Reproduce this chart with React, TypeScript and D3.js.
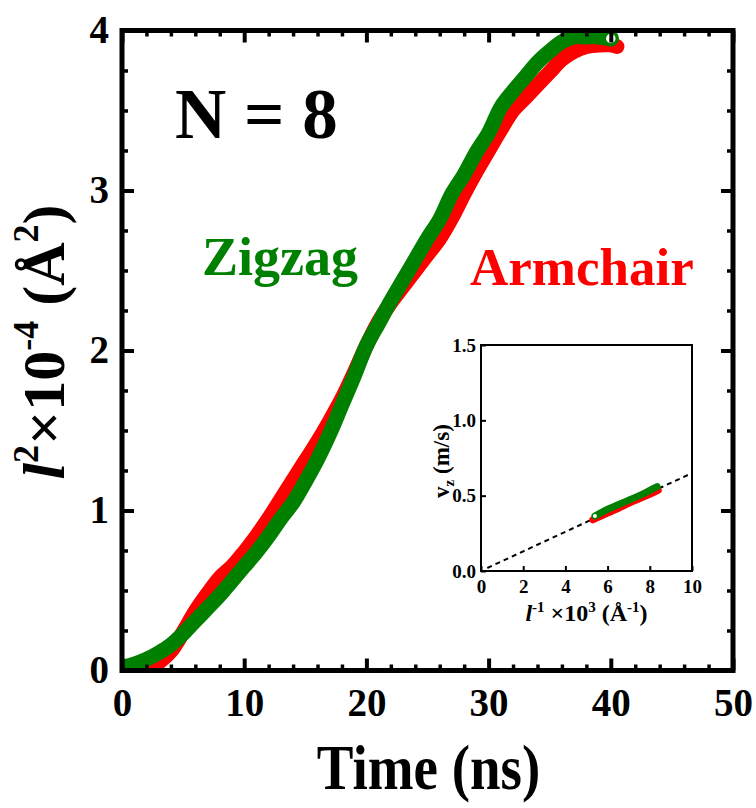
import { useEffect, useRef } from "react";
import {
  select,
  scaleLinear,
  axisBottom,
  axisLeft,
  axisTop,
  axisRight,
  line,
  curveCatmullRom,
  range,
} from "d3";

// main panel: l^2 x 10^-4 (A^2) vs time (ns)
const zigzagTime = [0, 1, 2, 3, 4, 5, 6, 7, 8, 9, 10, 11, 12, 13, 14, 15, 16, 17, 18, 19, 20, 21, 22, 23, 24, 25, 26, 27, 28, 29, 30, 31, 32, 33, 34, 35, 36, 37, 38, 39, 40];
const zigzagL2 = [0.02, 0.04, 0.07, 0.11, 0.16, 0.23, 0.31, 0.39, 0.47, 0.56, 0.65, 0.74, 0.84, 0.95, 1.05, 1.18, 1.32, 1.48, 1.66, 1.84, 2.03, 2.17, 2.31, 2.44, 2.57, 2.7, 2.82, 2.98, 3.1, 3.24, 3.36, 3.52, 3.62, 3.71, 3.8, 3.87, 3.93, 3.96, 3.96, 3.96, 3.95];
const armchairTime = [2, 3, 4, 5, 6, 7, 8, 9, 10, 11, 12, 13, 14, 15, 16, 17, 18, 19, 20, 21, 22, 23, 24, 25, 26, 27, 28, 29, 30, 31, 32, 33, 34, 35, 36, 37, 38, 39, 40, 40.5];
const armchairL2 = [0.0, 0.05, 0.12, 0.24, 0.37, 0.48, 0.58, 0.65, 0.74, 0.84, 0.95, 1.07, 1.19, 1.31, 1.43, 1.56, 1.7, 1.86, 2.03, 2.18, 2.3, 2.4, 2.5, 2.6, 2.7, 2.83, 2.98, 3.12, 3.25, 3.38, 3.5, 3.58, 3.66, 3.74, 3.82, 3.87, 3.9, 3.91, 3.91, 3.9];
const xTicks = [0, 10, 20, 30, 40, 50];
const yTicks = [0, 1, 2, 3, 4];

// inset: v_z (m/s) vs 1/l x 10^3
const insetZigzagX = [5.4, 6.0, 6.5, 7.0, 7.5, 8.0, 8.35];
const insetZigzagV = [0.365, 0.41, 0.44, 0.47, 0.5, 0.535, 0.56];
const insetArmchairX = [5.3, 6.0, 6.5, 7.0, 7.5, 8.0, 8.4];
const insetArmchairV = [0.34, 0.385, 0.415, 0.45, 0.48, 0.51, 0.535];
const fitX = [0.3, 10];
const fitV = [0.02, 0.65];
const insetXTicks = [0, 2, 4, 6, 8, 10];
const insetYTicks = [0, 0.5, 1.0, 1.5];

const GREEN = "#008000";
const RED = "#ff0000";
const FONT = "'Liberation Serif', 'Times New Roman', serif";

const plot = { left: 122, right: 733, top: 30.5, bottom: 670.5 };
const inset = { left: 481, right: 692, top: 345, bottom: 571 };

const App = () => {
  const svgRef = useRef<SVGSVGElement>(null);

  useEffect(() => {
    const svg = select(svgRef.current);
    svg.selectAll("*").remove();
    svg.style("font-family", FONT).style("font-weight", "bold");

    const x = scaleLinear().domain([0, 50]).range([plot.left, plot.right]);
    const y = scaleLinear().domain([0, 4]).range([plot.bottom, plot.top]);

    const defs = svg.append("defs");
    defs.append("clipPath").attr("id", "mainclip")
      .append("rect")
      .attr("x", plot.left).attr("y", plot.top)
      .attr("width", plot.right - plot.left).attr("height", plot.bottom - plot.top);
    defs.append("clipPath").attr("id", "insetclip")
      .append("rect")
      .attr("x", inset.left).attr("y", inset.top)
      .attr("width", inset.right - inset.left).attr("height", inset.bottom - inset.top);

    // series bands (dense overlapping markers look like a thick band)
    const band = (xs: number[], ys: number[], sx: any, sy: any) =>
      line<number>()
        .x((_, i) => sx(xs[i]))
        .y((_, i) => sy(ys[i]))
        .curve(curveCatmullRom)(ys);

    const series = svg.append("g").attr("clip-path", "url(#mainclip)");
    series.append("path")
      .attr("d", band(armchairTime, armchairL2, x, y))
      .attr("fill", "none").attr("stroke", RED).attr("stroke-width", 15)
      .attr("stroke-linejoin", "round").attr("stroke-linecap", "round");
    series.append("path")
      .attr("d", band(zigzagTime, zigzagL2, x, y))
      .attr("fill", "none").attr("stroke", GREEN).attr("stroke-width", 15)
      .attr("stroke-linejoin", "round").attr("stroke-linecap", "round");
    // last zigzag marker with white centre
    const lastZ = zigzagTime.length - 1;
    series.append("circle")
      .attr("cx", x(zigzagTime[lastZ])).attr("cy", y(zigzagL2[lastZ]))
      .attr("r", 6.5).attr("fill", "#fff").attr("stroke", GREEN).attr("stroke-width", 3.5);

    // axes
    const styleAxis = (g: any, fontSize: number, tickW: number) => {
      g.select(".domain").remove();
      g.selectAll("line").attr("stroke", "#000").attr("stroke-width", tickW);
      g.selectAll("text").attr("font-family", FONT).attr("font-weight", "bold")
        .attr("font-size", fontSize).attr("fill", "#000");
    };
    const xMinor = range(0, 51, 2).filter((v) => v % 10 !== 0);
    const yMinor = range(0, 4.01, 0.25).filter((v) => v % 1 !== 0);
    const none = () => "";

    const bottom = svg.append("g").attr("transform", `translate(0,${plot.bottom})`);
    bottom.append("g").call(axisBottom(x).tickValues(xTicks).tickSize(-12).tickPadding(18).tickFormat((d: any) => String(d)))
      .call((g: any) => styleAxis(g, 39, 4));
    bottom.append("g").call(axisBottom(x).tickValues(xMinor).tickSize(-6).tickFormat(none))
      .call((g: any) => styleAxis(g, 39, 3.5));
    const top = svg.append("g").attr("transform", `translate(0,${plot.top})`);
    top.append("g").call(axisTop(x).tickValues(xTicks).tickSize(-12).tickFormat(none))
      .call((g: any) => styleAxis(g, 39, 4));
    top.append("g").call(axisTop(x).tickValues(xMinor).tickSize(-6).tickFormat(none))
      .call((g: any) => styleAxis(g, 39, 3.5));
    const left = svg.append("g").attr("transform", `translate(${plot.left},0)`);
    left.append("g").call(axisLeft(y).tickValues(yTicks).tickSize(-12).tickPadding(13).tickFormat((d: any) => String(d)))
      .call((g: any) => styleAxis(g, 39, 4));
    left.append("g").call(axisLeft(y).tickValues(yMinor).tickSize(-6).tickFormat(none))
      .call((g: any) => styleAxis(g, 39, 3.5));
    const right = svg.append("g").attr("transform", `translate(${plot.right},0)`);
    right.append("g").call(axisRight(y).tickValues(yTicks).tickSize(-12).tickFormat(none))
      .call((g: any) => styleAxis(g, 39, 4));
    right.append("g").call(axisRight(y).tickValues(yMinor).tickSize(-6).tickFormat(none))
      .call((g: any) => styleAxis(g, 39, 3.5));

    svg.append("rect")
      .attr("x", plot.left).attr("y", plot.top)
      .attr("width", plot.right - plot.left).attr("height", plot.bottom - plot.top)
      .attr("fill", "none").attr("stroke", "#000").attr("stroke-width", 5);

    // axis titles
    svg.append("text")
      .attr("transform", `translate(${(plot.left + plot.right) / 2 + 1},789) scale(1,1.15)`)
      .attr("text-anchor", "middle").attr("font-size", 55)
      .text("Time (ns)");

    const yl = svg.append("text")
      .attr("transform", "translate(64,342) rotate(-90)")
      .attr("text-anchor", "middle").attr("font-size", 60);
    yl.append("tspan").attr("font-style", "italic").text("l");
    yl.append("tspan").attr("font-size", 36).attr("dy", -26).text("2");
    yl.append("tspan").attr("dy", 26).text("×10");
    yl.append("tspan").attr("font-size", 36).attr("dy", -26).text("-4");
    yl.append("tspan").attr("dy", 26).text(" (Å");
    yl.append("tspan").attr("font-size", 36).attr("dy", -26).text("2");
    yl.append("tspan").attr("dy", 26).text(")");

    // annotations
    svg.append("text").attr("x", 175).attr("y", 138).attr("font-size", 71).text("N = 8");
    svg.append("text").attr("x", 202).attr("y", 275).attr("font-size", 54).attr("fill", GREEN).text("Zigzag");
    svg.append("text").attr("x", 470).attr("y", 285).attr("font-size", 53).attr("fill", RED).text("Armchair");

    // inset
    const ix = scaleLinear().domain([0, 10]).range([inset.left, inset.right]);
    const iy = scaleLinear().domain([0, 1.5]).range([inset.bottom, inset.top]);
    svg.append("rect")
      .attr("x", inset.left).attr("y", inset.top)
      .attr("width", inset.right - inset.left).attr("height", inset.bottom - inset.top)
      .attr("fill", "#fff");

    const ig = svg.append("g").attr("clip-path", "url(#insetclip)");
    ig.append("path")
      .attr("d", line<number>().x((d) => ix(d)).y((_, i) => iy(fitV[i]))(fitX))
      .attr("fill", "none").attr("stroke", "#000").attr("stroke-width", 2)
      .attr("stroke-dasharray", "5,4");
    ig.append("path")
      .attr("d", band(insetArmchairX, insetArmchairV, ix, iy))
      .attr("fill", "none").attr("stroke", RED).attr("stroke-width", 7)
      .attr("stroke-linecap", "round").attr("stroke-linejoin", "round");
    ig.append("path")
      .attr("d", band(insetZigzagX, insetZigzagV, ix, iy))
      .attr("fill", "none").attr("stroke", GREEN).attr("stroke-width", 7)
      .attr("stroke-linecap", "round").attr("stroke-linejoin", "round");
    ig.append("circle")
      .attr("cx", ix(insetZigzagX[0])).attr("cy", iy(insetZigzagV[0]))
      .attr("r", 2).attr("fill", "#fff");

    svg.append("g").attr("transform", `translate(0,${inset.bottom})`)
      .call(axisBottom(ix).tickValues(insetXTicks).tickSize(-5).tickPadding(9).tickFormat((d: any) => String(d)))
      .call((g: any) => styleAxis(g, 19, 2));
    svg.append("g").attr("transform", `translate(${inset.left},0)`)
      .call(axisLeft(iy).tickValues(insetYTicks).tickSize(-5).tickPadding(5).tickFormat((d: any) => d.toFixed(1)))
      .call((g: any) => styleAxis(g, 19, 2));
    svg.append("rect")
      .attr("x", inset.left).attr("y", inset.top)
      .attr("width", inset.right - inset.left).attr("height", inset.bottom - inset.top)
      .attr("fill", "none").attr("stroke", "#000").attr("stroke-width", 2);

    const ixl = svg.append("text")
      .attr("x", (inset.left + inset.right) / 2).attr("y", 621)
      .attr("text-anchor", "middle").attr("font-size", 24);
    ixl.append("tspan").attr("font-style", "italic").text("l");
    ixl.append("tspan").attr("font-size", 15).attr("dy", -9).text("-1");
    ixl.append("tspan").attr("dy", 9).text(" ×10");
    ixl.append("tspan").attr("font-size", 15).attr("dy", -9).text("3");
    ixl.append("tspan").attr("dy", 9).text(" (Å");
    ixl.append("tspan").attr("font-size", 15).attr("dy", -9).text("-1");
    ixl.append("tspan").attr("dy", 9).text(")");

    const iyl = svg.append("text")
      .attr("transform", `translate(449,${(inset.top + inset.bottom) / 2 + 3}) rotate(-90)`)
      .attr("text-anchor", "middle").attr("font-size", 23);
    iyl.append("tspan").text("v");
    iyl.append("tspan").attr("font-size", 15).attr("dy", 5).text("z");
    iyl.append("tspan").attr("dy", -5).text(" (m/s)");
  }, []);

  return (
    <svg
      ref={svgRef}
      width={756}
      height={808}
      viewBox="0 0 756 808"
      style={{ position: "absolute", left: 0, top: 0, background: "#fff" }}
    />
  );
};

export default App;
